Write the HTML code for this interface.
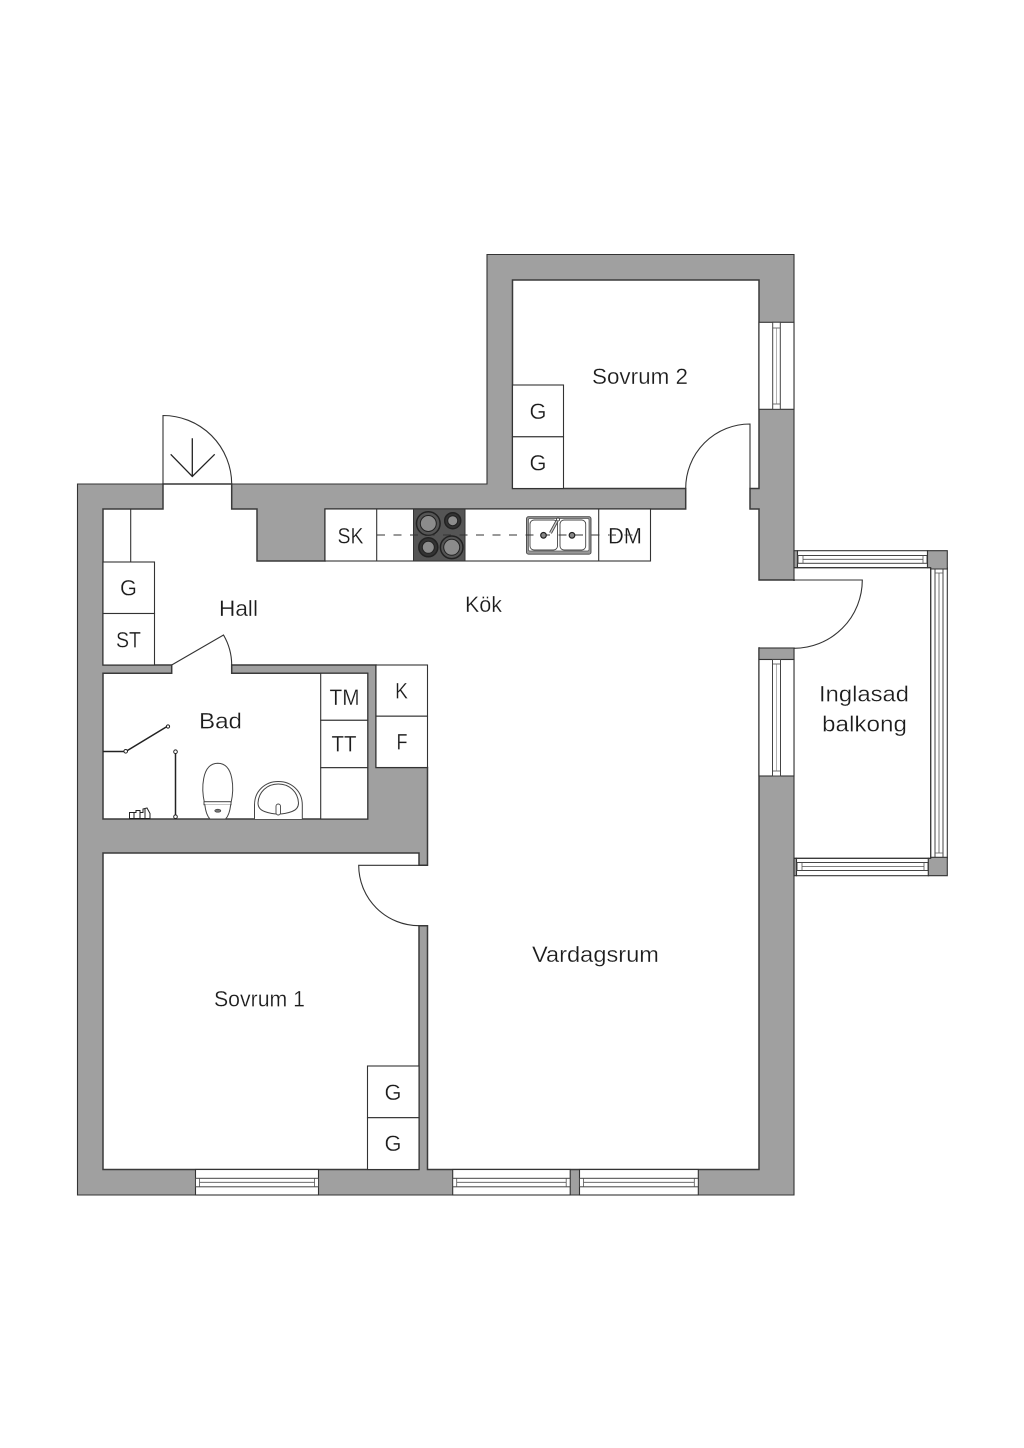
<!DOCTYPE html>
<html><head><meta charset="utf-8"><style>
html,body{margin:0;padding:0;background:#fff}
svg{display:block}
text{font-family:"Liberation Sans",sans-serif;font-size:22px;fill:#1c1c1c;stroke:#fff;stroke-width:.25px;paint-order:fill}
.l{fill:none;stroke:#333;stroke-width:1.1}
.w{fill:#fff;stroke:#333;stroke-width:1.1}
.g{fill:#a0a0a0;stroke:#333;stroke-width:1.1}
.f{fill:#fff;stroke:#444;stroke-width:1}
</style></head><body>
<svg width="1024" height="1448" viewBox="0 0 1024 1448" xmlns="http://www.w3.org/2000/svg">
<rect width="1024" height="1448" fill="#fff"/>
<!-- walls -->
<polygon class="g" points="77.5,484 487,484 487,254.5 794,254.5 794,1195 77.5,1195"/>
<polygon fill="#fff" stroke="#3a3a3a" stroke-width="1.5" points="103,509 163,509 163,484 231.7,484 231.7,509 257,509 257,561 325,561 325,509 685.7,509 685.7,488.5 512.5,488.5 512.5,280 759,280 759,488.5 750,488.5 750,509 759,509 759,580 794,580 794,648 759,648 759,1169.5 427.5,1169.5 427.5,925.7 419,925.7 419,1169.5 103,1169.5 103,853 419,853 419,865.3 427.5,865.3 427.5,767.5 376,767.5 376,665 231.7,665 231.7,673.3 367.7,673.3 367.7,819 103,819 103,673.3 171.7,673.3 171.7,665 103,665"/>
<rect x="760" y="581" width="37" height="66.500" fill="#fff"/>
<rect x="759" y="648" width="35" height="11.500" class="g"/>
<!-- entrance door -->
<path class="l" d="M163,484H231.700M163,484V415.500A68.700,68.700 0 0 1 231.700,484"/>
<path d="M192.300,438.300V476.500M170.700,454.300L192.300,476.500L214.700,454.300" fill="none" stroke="#222" stroke-width="1.300"/>
<!-- hall storage -->
<path class="l" d="M130.700,509V562"/>
<rect class="w" x="103" y="562" width="51.500" height="51.500"/>
<rect class="w" x="103" y="613.500" width="51.500" height="51.500"/>
<!-- bath door -->
<path class="l" d="M171.700,665L223.500,635A60,60 0 0 1 231.700,665"/>
<!-- bath cabinets -->
<rect class="w" x="320.700" y="673.300" width="47" height="47"/>
<rect class="w" x="320.700" y="720.300" width="47" height="47.400"/>
<rect class="w" x="320.700" y="767.700" width="47" height="51.300"/>
<rect class="w" x="376" y="665" width="51.500" height="51.200"/>
<rect class="w" x="376" y="716.200" width="51.500" height="51.300"/>
<!-- counter -->
<rect class="w" x="325" y="509" width="325.500" height="52"/>
<path class="l" d="M376.700,509V561M598.700,509V561"/>
<rect x="413.500" y="509" width="51.500" height="52" fill="#555" stroke="#333"/>
<g stroke="#222" fill="#8c8c8c">
<circle cx="428.300" cy="523.500" r="11.800" stroke-width="1.500" fill="#555"/><circle cx="428.300" cy="523.500" r="8" stroke-width="1" />
<circle cx="452.700" cy="520.700" r="8" stroke-width="1.500" fill="#333"/><circle cx="452.700" cy="520.700" r="5" stroke-width="1"/>
<circle cx="428.300" cy="547.300" r="9.500" stroke-width="1.500" fill="#333"/><circle cx="428.300" cy="547.300" r="6" stroke-width="1"/>
<circle cx="451.700" cy="547.300" r="11.300" stroke-width="1.500" fill="#555"/><circle cx="451.700" cy="547.300" r="8" stroke-width="1"/>
</g>
<rect x="526.500" y="516.700" width="64.500" height="37.500" rx="2" fill="#999" stroke="#444" stroke-width=".9"/>
<rect x="528.500" y="518.500" width="60.500" height="32.500" rx="1.500" fill="#fff" stroke="#555" stroke-width=".7"/>
<rect x="530" y="520" width="27.500" height="30" rx="4" fill="#fff" stroke="#444" stroke-width=".9"/>
<rect x="560" y="520" width="25.700" height="30" rx="4" fill="#fff" stroke="#444" stroke-width=".9"/>
<path d="M377,535H640" fill="none" stroke="#333" stroke-width="1" stroke-dasharray="8,8.500"/>
<circle cx="543.500" cy="535.300" r="2.800" fill="#888" stroke="#222" stroke-width="1.200"/>
<circle cx="572" cy="535.300" r="2.800" fill="#888" stroke="#222" stroke-width="1.200"/>
<path d="M550.500,533L557,521" stroke="#444" stroke-width="3" fill="none"/><path d="M550.500,533L557,521" stroke="#ccc" stroke-width="1.300" fill="none"/>
<circle cx="558" cy="519.500" r="1.500" fill="#fff" stroke="#333" stroke-width=".8"/>
<!-- bath fixtures -->
<path d="M103,751.500H125.700L167,726.500M175.500,752V816.700" fill="none" stroke="#222" stroke-width="1.500"/>
<circle cx="125.700" cy="751.300" r="1.800" fill="#fff" stroke="#222" stroke-width="1"/>
<circle cx="168" cy="726.500" r="1.600" fill="#fff" stroke="#222" stroke-width="1"/>
<circle cx="175.500" cy="751.700" r="1.800" fill="#fff" stroke="#222" stroke-width="1"/>
<circle cx="175.500" cy="816.700" r="1.800" fill="#fff" stroke="#222" stroke-width="1"/>
<path d="M129.500,818.500V812.500H136V810.500H140V812.500H143V809L147,808L150,813.500V818.500Z M134,812.500V818 M140,812.500V818 M145,809V818" fill="#fff" stroke="#222" stroke-width="1"/>
<path class="f" d="M204.500,803C201.500,790 201,763.500 217.800,763.300C234.500,763.500 234,790 231,803Z"/>
<rect class="f" x="204" y="801.700" width="27" height="3"/>
<path class="f" d="M204.800,804.500C205.500,811 207,816 210,819H225.500C228.500,816 230,811 230.700,804.500"/>
<ellipse cx="217.800" cy="810.700" rx="3" ry="1.500" fill="#777" stroke="#333" stroke-width=".7"/>
<path class="f" d="M254.500,819V805C254.500,791 265,781.500 278.300,781.500C291.500,781.500 302.300,791 302.300,805V819"/>
<path class="f" d="M258,803C258.500,792 267,784 278.300,784C289.500,784 298,792 298.500,803C298.500,807 296,810 292,811.500C288,813 283,814 278.300,814C273.500,814 268.500,813 264.500,811.500C260.500,810 258,807 258,803Z"/>
<rect x="276" y="804" width="4.500" height="11" rx="2.200" fill="#fff" stroke="#444" stroke-width=".9"/>
<!-- Bedroom 2 wardrobe -->
<rect class="w" x="512.500" y="385" width="51" height="51.800"/>
<rect class="w" x="512.500" y="436.800" width="51" height="51.700"/>
<!-- bedroom 2 door -->
<path class="l" d="M750,488.500V424A64.300,64.300 0 0 0 685.700,488.500"/>
<!-- bedroom 2 window -->
<rect class="w" x="759" y="322.300" width="35" height="87"/>
<rect class="f" x="772.700" y="322.300" width="7.600" height="87"/>
<path d="M772.700,328H780.300M772.700,404H780.300" stroke="#444" stroke-width=".8"/>
<path d="M776.500,328V404" stroke="#666" stroke-width=".5"/>
<!-- balcony door -->
<path class="l" d="M759,580H862.300A68.300,68.300 0 0 1 794,648.300"/>
<!-- living east window -->
<rect class="w" x="759" y="659.500" width="35" height="116.500"/>
<rect class="f" x="772.500" y="659.500" width="8" height="116.500"/>
<path d="M772.500,664H780.500M772.500,771H780.500" stroke="#444" stroke-width=".8"/>
<path d="M776.500,664V771" stroke="#666" stroke-width=".5"/>
<!-- balcony frame -->
<rect class="g" x="794" y="550.700" width="3.500" height="17"/>
<rect class="g" x="794" y="858.300" width="2.500" height="17.400"/>
<rect class="w" x="797.500" y="550.700" width="130" height="17"/>
<rect class="f" x="798" y="555.500" width="129" height="7.800"/>
<path d="M803,555.500V563.300M923,555.500V563.300M803,559.300H923" stroke="#555" stroke-width=".8" fill="none"/>
<rect class="w" x="796.500" y="858.300" width="132" height="17.400"/>
<rect class="f" x="797" y="862.500" width="131" height="8"/>
<path d="M802,862.500V870.500M924,862.500V870.500M802,866.500H924" stroke="#555" stroke-width=".8" fill="none"/>
<rect class="w" x="930.700" y="568" width="16.600" height="290"/>
<rect class="f" x="935" y="568" width="8" height="290"/>
<path d="M935,573H943M935,853H943M939,573V853" stroke="#555" stroke-width=".8" fill="none"/>
<polygon class="g" points="927.500,550.700 947.300,550.700 947.300,569 930.700,569 930.700,567.700 927.500,567.700"/>
<polygon class="g" points="930.700,857.300 947.300,857.300 947.300,875.700 928.300,875.700 928.300,858.300 930.700,858.300"/>
<path class="l" d="M794,567.700H930.700M794,858.300H930.700"/>
<path class="l" d="M930.700,567.700V858.300"/>
<!-- south windows -->
<g>
<rect class="w" x="195.500" y="1169.500" width="123" height="25.500"/>
<rect class="f" x="195.500" y="1178.300" width="123" height="8.500"/>
<path d="M199.500,1178.300V1186.800M314.500,1178.300V1186.800M199.500,1182.300H314.500" stroke="#555" stroke-width=".8" fill="none"/>
<rect class="w" x="452.700" y="1169.500" width="117.500" height="25.500"/>
<rect class="f" x="452.700" y="1178.300" width="117.500" height="8.500"/>
<path d="M456.700,1178.300V1186.800M566.200,1178.300V1186.800M456.700,1182.300H566.200" stroke="#555" stroke-width=".8" fill="none"/>
<rect class="w" x="579.500" y="1169.500" width="118.800" height="25.500"/>
<rect class="f" x="579.500" y="1178.300" width="118.800" height="8.500"/>
<path d="M583.500,1178.300V1186.800M694.300,1178.300V1186.800M583.500,1182.300H694.300" stroke="#555" stroke-width=".8" fill="none"/>
</g>
<!-- bedroom 1 door and wardrobe -->
<path class="l" d="M427.500,865.300H358.700A60.400,60.400 0 0 0 419,925.700"/>
<rect class="w" x="367.500" y="1066" width="51.500" height="51.700"/>
<rect class="w" x="367.500" y="1117.700" width="51.500" height="51.800"/>
<!-- labels -->
<text x="592" y="384" textLength="96" lengthAdjust="spacingAndGlyphs">Sovrum 2</text>
<text x="219" y="616" textLength="39" lengthAdjust="spacingAndGlyphs">Hall</text>
<text x="465" y="612" textLength="37" lengthAdjust="spacingAndGlyphs">Kök</text>
<text x="199" y="728.300" textLength="43" lengthAdjust="spacingAndGlyphs">Bad</text>
<text x="532" y="962" textLength="127" lengthAdjust="spacingAndGlyphs">Vardagsrum</text>
<text x="214" y="1006.500" textLength="91" lengthAdjust="spacingAndGlyphs">Sovrum 1</text>
<text x="819" y="701.700" textLength="90" lengthAdjust="spacingAndGlyphs">Inglasad</text>
<text x="822" y="731.700" textLength="85" lengthAdjust="spacingAndGlyphs">balkong</text>
<text x="120" y="595.500" textLength="17" lengthAdjust="spacingAndGlyphs">G</text>
<text x="116" y="647.300" textLength="25" lengthAdjust="spacingAndGlyphs">ST</text>
<text x="337.500" y="543.300" textLength="26" lengthAdjust="spacingAndGlyphs">SK</text>
<text x="608" y="543.300" textLength="34" lengthAdjust="spacingAndGlyphs">DM</text>
<text x="329.500" y="705" textLength="30" lengthAdjust="spacingAndGlyphs">TM</text>
<text x="331.500" y="751.700" textLength="25" lengthAdjust="spacingAndGlyphs">TT</text>
<text x="395" y="698.300" textLength="13" lengthAdjust="spacingAndGlyphs">K</text>
<text x="396.500" y="749.300" textLength="11" lengthAdjust="spacingAndGlyphs">F</text>
<text x="529.500" y="419" textLength="17" lengthAdjust="spacingAndGlyphs">G</text>
<text x="529.500" y="470.500" textLength="17" lengthAdjust="spacingAndGlyphs">G</text>
<text x="384.500" y="1100" textLength="17" lengthAdjust="spacingAndGlyphs">G</text>
<text x="384.500" y="1151" textLength="17" lengthAdjust="spacingAndGlyphs">G</text>
</svg>
</body></html>
